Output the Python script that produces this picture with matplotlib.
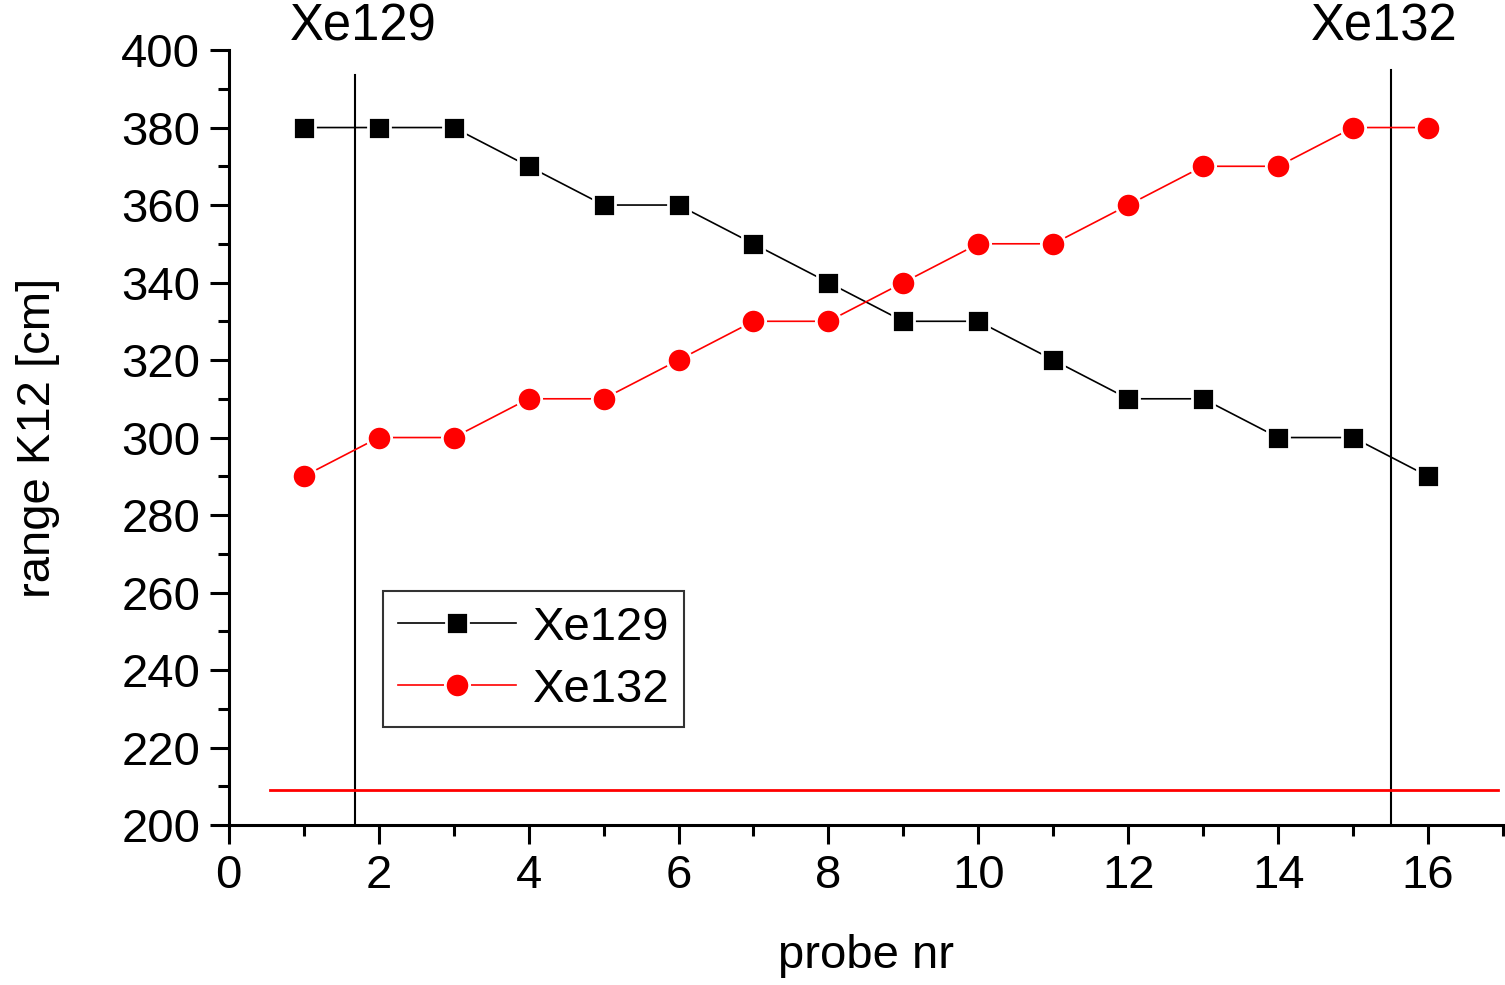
import numpy as np
import matplotlib
matplotlib.use('Agg')
import matplotlib.pyplot as plt
from matplotlib.ticker import MultipleLocator

plt.rcParams['font.family'] = ['Liberation Sans', 'DejaVu Sans']

probe = np.arange(1, 17)
xe129 = [380, 380, 380, 370, 360, 360, 350, 340, 330, 330, 320, 310, 310, 300, 300, 290]
xe132 = [290, 300, 300, 310, 310, 320, 330, 330, 340, 350, 350, 360, 370, 370, 380, 380]

# marker lines and reference line
line_x = [1.68, 15.5]
line_top = [393.5, 394.8]
line_labels = ['Xe129', 'Xe132']
label_x = [1.8, 15.41]
ref_y = 209
ref_span = [0.55, 16.93]

fig = plt.figure(figsize=(15.05, 9.85), dpi=100)
ax = fig.add_axes([0.152, 0.1624, 0.8467, 0.7868])

ax.plot(probe, xe129, color='black', lw=1.2, marker='s', ms=16,
        mec='white', mew=2, label='Xe129', zorder=3)
ax.plot(probe, xe132, color='red', lw=1.2, marker='o', ms=17.5,
        mec='white', mew=2, label='Xe132', zorder=3)

for x, top, lab, lx in zip(line_x, line_top, line_labels, label_x):
    ax.plot([x, x], [200, top], color='black', lw=1.5, zorder=2)
    ax.text(lx, 399.5, lab, fontsize=36.5, ha='center', va='bottom', clip_on=False)

ax.plot(ref_span, [ref_y, ref_y], color='red', lw=2, zorder=2)

ax.set_xlim(0, 17)
ax.set_ylim(200, 400)
ax.xaxis.set_major_locator(MultipleLocator(2))
ax.xaxis.set_minor_locator(MultipleLocator(1))
ax.yaxis.set_major_locator(MultipleLocator(20))
ax.yaxis.set_minor_locator(MultipleLocator(10))

for s in ['top', 'right']:
    ax.spines[s].set_visible(False)
for s in ['left', 'bottom']:
    ax.spines[s].set_linewidth(2.2)

ax.tick_params(which='major', direction='out', length=13.5, width=2.2, labelsize=34, pad=7)
ax.tick_params(which='minor', direction='out', length=8, width=2.2)

ax.set_xlabel('probe nr', fontsize=34, labelpad=26)
ax.set_ylabel('range K12 [cm]', fontsize=34, labelpad=44)

leg = ax.legend(loc='lower left', bbox_to_anchor=(0.121, 0.1265), borderaxespad=0,
                fontsize=34, frameon=True, fancybox=False, edgecolor='black',
                handlelength=2.5, borderpad=0.32, labelspacing=0.38, handletextpad=0.35)
leg.get_frame().set_linewidth(1.5)

fig.savefig('out.png', dpi=100)
